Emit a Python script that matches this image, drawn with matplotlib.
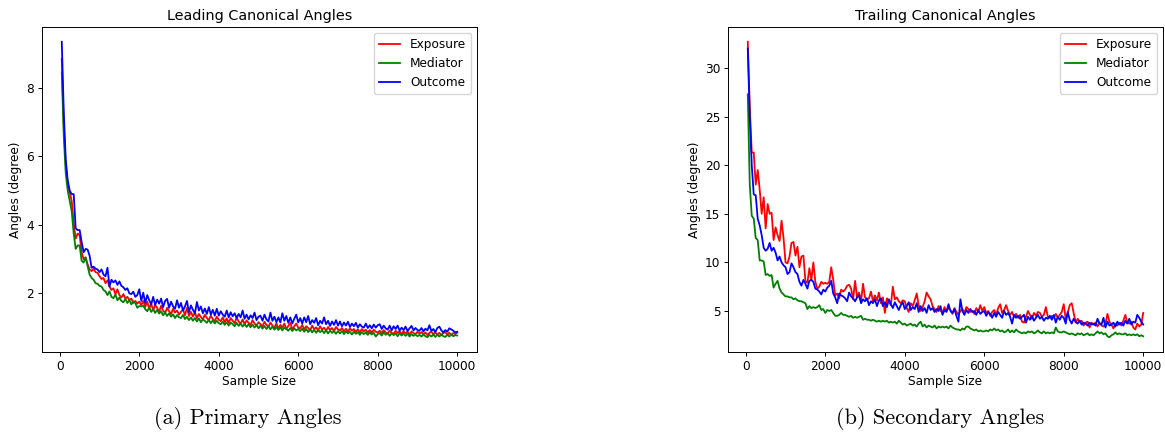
import numpy as np
import matplotlib.pyplot as plt

# sample sizes, 50 .. 10000 in steps of 50
sample_sizes = np.arange(50, 10001, 50)

lead_exposure = [
    8.85, 6.9, 5.75, 5.2, 4.95, 4.7, 4.05, 3.6, 3.75, 3.7, 3.2, 3.0, 3.05, 2.85, 2.7, 2.65, 2.72, 2.62, 2.6, 2.5,
    2.42, 2.45, 2.3, 2.38, 2.2, 2.1, 2.15, 1.98, 2.12, 1.95, 1.88, 1.98, 1.85, 1.9, 1.8, 1.85, 1.72, 1.78, 1.7, 1.76,
    1.66, 1.78, 1.6, 1.76, 1.56, 1.7, 1.5, 1.66, 1.58, 1.46, 1.64, 1.5, 1.43, 1.58, 1.48, 1.4, 1.55, 1.44, 1.5, 1.38,
    1.46, 1.54, 1.36, 1.58, 1.34, 1.46, 1.32, 1.45, 1.27, 1.4, 1.31, 1.24, 1.38, 1.28, 1.22, 1.35, 1.25, 1.19, 1.32, 1.23,
    1.19, 1.3, 1.16, 1.27, 1.14, 1.28, 1.2, 1.13, 1.3, 1.18, 1.11, 1.24, 1.1, 1.21, 1.14, 1.08, 1.22, 1.12, 1.06, 1.16,
    1.1, 1.04, 1.17, 1.08, 1.02, 1.15, 1.06, 1.0, 1.13, 0.97, 1.08, 1.0, 1.12, 0.96, 1.05, 1.14, 0.95, 1.04, 1.12, 1.0,
    0.98, 1.08, 0.95, 1.04, 0.99, 0.92, 1.06, 0.95, 1.01, 0.91, 1.04, 0.94, 1.0, 0.9, 1.02, 0.93, 0.99, 0.89, 1.02, 0.95,
    0.92, 0.99, 0.89, 0.97, 0.88, 0.98, 0.91, 0.96, 0.87, 0.95, 0.86, 0.96, 0.89, 0.94, 0.86, 0.93, 0.85, 0.94, 0.88, 0.86,
    0.91, 0.84, 0.93, 0.86, 0.83, 0.91, 0.85, 0.82, 0.91, 0.84, 0.89, 0.81, 0.9, 0.83, 0.88, 0.8, 0.89, 0.84, 0.81, 0.88,
    0.83, 0.87, 0.8, 0.86, 0.78, 0.85, 0.88, 0.8, 0.86, 0.79, 0.85, 0.78, 0.84, 0.87, 0.79, 0.85, 0.78, 0.84, 0.81, 0.86,
]
lead_mediator = [
    8.45, 6.6, 5.5, 5.0, 4.7, 4.4, 3.75, 3.3, 3.4, 3.4, 2.95, 2.9, 3.05, 2.8, 2.55, 2.45, 2.4, 2.3, 2.28, 2.22,
    2.2, 2.1, 2.06, 1.95, 2.06, 1.9, 1.86, 1.97, 1.8, 1.88, 1.78, 1.74, 1.84, 1.72, 1.8, 1.68, 1.77, 1.72, 1.58, 1.63,
    1.62, 1.64, 1.54, 1.48, 1.59, 1.46, 1.54, 1.43, 1.52, 1.41, 1.48, 1.36, 1.44, 1.34, 1.42, 1.32, 1.39, 1.28, 1.37, 1.3,
    1.28, 1.37, 1.25, 1.32, 1.22, 1.3, 1.2, 1.28, 1.18, 1.27, 1.16, 1.24, 1.2, 1.14, 1.23, 1.13, 1.21, 1.12, 1.2, 1.13,
    1.1, 1.18, 1.08, 1.16, 1.06, 1.15, 1.1, 1.04, 1.14, 1.05, 1.12, 1.03, 1.11, 1.02, 1.1, 1.01, 1.09, 1.0, 1.08, 0.98,
    1.06, 0.97, 1.05, 0.96, 1.04, 0.95, 1.03, 0.94, 1.02, 0.93, 1.01, 0.92, 1.0, 0.96, 0.91, 0.99, 0.9, 0.98, 0.92, 0.96,
    0.9, 0.97, 0.88, 0.96, 0.87, 0.95, 0.86, 0.94, 0.85, 0.93, 0.87, 0.92, 0.84, 0.92, 0.83, 0.91, 0.85, 0.9, 0.82, 0.9,
    0.83, 0.9, 0.81, 0.89, 0.83, 0.88, 0.8, 0.88, 0.82, 0.87, 0.79, 0.87, 0.81, 0.86, 0.79, 0.86, 0.8, 0.85, 0.74, 0.81,
    0.84, 0.77, 0.86, 0.79, 0.84, 0.76, 0.84, 0.78, 0.83, 0.75, 0.83, 0.77, 0.82, 0.76, 0.82, 0.74, 0.81, 0.76, 0.8, 0.75,
    0.79, 0.74, 0.8, 0.75, 0.72, 0.79, 0.74, 0.8, 0.73, 0.79, 0.74, 0.8, 0.75, 0.73, 0.79, 0.74, 0.8, 0.75, 0.78, 0.77,
]
lead_outcome = [
    9.35, 7.3, 5.9, 5.3, 5.0, 4.9, 4.9, 3.9, 3.85, 3.85, 3.5, 3.2, 3.3, 3.28, 3.1, 2.75, 2.78, 2.72, 2.7, 2.62,
    2.7, 2.55, 2.5, 2.75, 2.2, 2.4, 2.32, 2.38, 2.25, 2.35, 2.22, 2.18, 2.1, 2.15, 2.0, 1.98, 2.05, 1.9, 1.95, 2.12,
    1.78, 2.02, 1.72, 1.95, 1.8, 1.68, 1.9, 1.66, 1.82, 1.7, 1.85, 1.6, 1.78, 1.84, 1.58, 1.76, 1.62, 1.55, 1.8, 1.58,
    1.72, 1.5, 1.62, 1.78, 1.45, 1.65, 1.52, 1.42, 1.75, 1.5, 1.62, 1.42, 1.56, 1.4, 1.6, 1.38, 1.52, 1.35, 1.55, 1.35,
    1.48, 1.38, 1.32, 1.5, 1.3, 1.45, 1.33, 1.42, 1.28, 1.4, 1.3, 1.5, 1.26, 1.38, 1.24, 1.36, 1.28, 1.44, 1.22, 1.32,
    1.35, 1.2, 1.38, 1.24, 1.18, 1.44, 1.2, 1.32, 1.16, 1.3, 1.15, 1.42, 1.2, 1.34, 1.14, 1.3, 1.12, 1.26, 1.38, 1.15,
    1.28, 1.12, 1.3, 1.16, 1.34, 1.1, 1.22, 1.14, 1.28, 1.07, 1.2, 1.12, 1.3, 1.1, 1.2, 1.05, 1.18, 1.08, 1.22, 1.06,
    1.18, 1.04, 1.15, 1.06, 1.17, 1.02, 1.12, 1.04, 1.14, 1.0, 1.1, 1.03, 1.0, 1.12, 0.99, 1.07, 0.98, 1.09, 1.0, 1.07,
    1.1, 0.96, 1.06, 0.98, 0.94, 1.06, 0.92, 1.04, 0.96, 1.06, 0.91, 1.0, 0.93, 1.03, 0.9, 0.98, 1.05, 0.92, 0.99, 0.93,
    0.91, 0.99, 0.89, 0.97, 0.92, 1.07, 0.9, 0.96, 0.87, 0.99, 1.03, 0.92, 0.86, 0.93, 0.88, 0.98, 0.95, 0.91, 0.86, 0.88,
]

trail_exposure = [
    32.7, 26.0, 21.3, 21.3, 18.0, 19.5, 17.5, 15.0, 16.7, 13.5, 16.0, 15.0, 15.1, 12.3, 13.6, 12.8, 12.2, 14.3, 12.5, 10.0,
    9.9, 10.6, 12.0, 12.1, 10.7, 11.6, 9.5, 10.6, 10.7, 8.1, 7.9, 9.4, 8.2, 10.0, 8.0, 7.3, 7.5, 8.0, 7.8, 7.9,
    7.8, 8.0, 9.5, 8.2, 6.6, 6.8, 6.3, 7.2, 7.0, 7.2, 7.6, 7.7, 7.3, 6.2, 8.1, 6.4, 6.9, 6.0, 7.8, 6.4,
    6.2, 6.3, 7.0, 6.0, 6.6, 6.1, 6.9, 5.8, 6.4, 4.8, 6.3, 6.0, 5.6, 7.5, 6.2, 6.4, 6.0, 5.8, 6.1, 6.0,
    5.3, 4.9, 5.8, 5.5, 6.1, 6.8, 5.6, 5.0, 5.4, 6.0, 6.9, 6.5, 6.2, 5.5, 5.2, 4.9, 5.5, 5.0, 4.8, 5.4,
    5.0, 5.3, 5.1, 4.7, 5.3, 4.9, 4.6, 5.0, 5.2, 4.8, 5.4, 5.2, 4.9, 5.0, 4.7, 5.3, 4.9, 5.6, 5.0, 5.4,
    4.8, 5.0, 4.5, 4.9, 5.1, 4.6, 5.3, 5.7, 4.8, 5.1, 5.6, 5.0, 4.6, 4.9, 4.4, 4.7, 4.3, 4.6, 3.9, 3.8,
    4.4, 5.0, 4.6, 4.2, 4.8, 4.5, 4.9, 4.8, 4.4, 4.6, 5.4, 4.4, 4.3, 4.5, 4.3, 4.7, 4.3, 4.6, 4.9, 5.7,
    4.2, 4.8, 5.6, 5.8, 4.8, 3.8, 4.2, 3.9, 4.0, 3.5, 3.8, 3.9, 3.3, 3.8, 3.6, 3.8, 3.4, 3.8, 3.5, 3.4,
    3.7, 4.7, 3.9, 3.6, 3.2, 3.7, 3.5, 3.8, 3.5, 4.0, 4.6, 3.8, 3.7, 3.9, 3.3, 3.1, 3.7, 3.4, 3.6, 4.8,
]
trail_mediator = [
    27.3, 18.0, 14.8, 14.5, 12.5, 12.3, 10.2, 10.2, 10.1, 8.7, 8.8, 8.6, 8.7, 7.4, 7.8, 8.1, 7.3, 6.9, 6.7, 6.5,
    6.5, 6.4, 6.4, 6.2, 6.3, 6.1, 6.0, 6.0, 5.9, 5.8, 5.2, 5.5, 5.3, 5.4, 5.3, 5.4, 5.6, 5.1, 5.2, 4.8,
    5.1, 5.0, 5.1, 4.8, 4.5, 4.5, 4.6, 4.8, 4.6, 4.6, 4.5, 4.4, 4.5, 4.3, 4.4, 4.3, 4.4, 4.5, 4.1, 4.2,
    4.1, 4.1, 4.0, 4.1, 4.0, 3.9, 4.0, 3.9, 4.0, 3.9, 4.0, 3.8, 3.9, 3.8, 3.9, 3.7, 4.0, 3.8, 3.6, 3.7,
    3.5, 3.6, 3.7, 3.5, 3.6, 3.4, 3.7, 3.9, 3.4, 3.6, 3.3, 3.5, 3.4, 3.3, 3.5, 3.2, 3.4, 3.3, 3.4, 3.3,
    3.4, 3.2, 3.5, 3.3, 3.2, 3.1, 3.1, 3.0, 3.2, 3.1, 3.4, 3.4, 3.2, 3.1, 3.0, 3.1, 2.9, 3.0, 2.9, 2.9,
    3.0, 2.9, 3.1, 3.0, 3.2, 3.0, 3.1, 2.9, 3.0, 2.8, 2.9, 3.1, 2.8, 3.0, 2.8, 3.1, 2.9, 2.8, 2.7, 2.8,
    2.7, 2.9, 2.8, 2.9, 2.7, 2.8, 3.0, 2.8, 2.7, 2.9, 2.7, 2.8, 2.7, 2.8, 2.7, 3.3, 2.9, 2.8, 2.8, 2.9,
    2.8, 2.7, 2.6, 2.7, 2.6, 2.5, 2.7, 2.6, 2.7, 2.5, 2.6, 2.7, 2.5, 2.6, 2.5, 2.7, 2.9, 2.7, 2.8, 2.6,
    2.7, 2.4, 2.3, 2.5, 2.6, 2.8, 2.6, 2.7, 2.6, 2.6, 2.7, 2.5, 2.6, 2.5, 2.6, 2.5, 2.6, 2.4, 2.5, 2.4,
]
trail_outcome = [
    32.0, 25.0, 20.0, 17.0, 16.9, 14.5, 13.8, 12.8, 11.5, 11.2, 11.4, 12.0, 11.2, 11.5, 11.0, 10.2, 10.6, 10.0, 9.7, 9.5,
    8.8, 9.0, 9.9, 9.5, 9.0, 8.8, 8.0, 7.6, 8.2, 7.8, 7.3, 8.1, 8.2, 8.0, 7.3, 7.2, 7.0, 6.7, 7.2, 7.0,
    7.4, 7.6, 8.1, 6.8, 6.4, 5.8, 6.8, 6.6, 6.5, 6.3, 6.0, 6.9, 6.5, 6.3, 6.0, 6.4, 6.6, 5.8, 6.2, 6.0,
    6.3, 5.6, 6.0, 5.8, 6.2, 5.5, 6.1, 6.3, 5.5, 5.9, 5.4, 6.2, 5.7, 5.3, 5.9, 5.5, 5.1, 5.6, 5.9, 5.2,
    5.5, 5.9, 5.1, 5.4, 5.2, 5.8, 4.9, 5.5, 5.0, 5.3, 4.8, 5.6, 5.1, 5.3, 4.9, 5.2, 5.0, 5.5, 4.6, 5.1,
    4.9, 5.7, 5.0, 4.8, 5.2, 4.5, 3.9, 6.2, 5.0, 4.6, 5.1, 4.8, 5.2, 4.9, 5.0, 4.6, 5.1, 4.7, 4.9, 5.0,
    4.5, 4.9, 4.7, 4.3, 4.8, 4.4, 4.9, 4.6, 4.3, 5.0, 4.6, 4.8, 4.4, 3.7, 4.6, 4.3, 4.5, 4.2, 4.4, 4.6,
    3.8, 4.4, 4.1, 4.5, 4.0, 4.3, 4.6, 4.2, 4.4, 4.0, 4.3, 4.2, 4.5, 4.1, 4.6, 3.8, 4.4, 4.1, 4.5, 4.3,
    3.7, 4.9, 4.1, 3.7, 4.2, 3.9, 3.7, 4.0, 3.6, 3.8, 3.7, 3.5, 3.8, 3.6, 3.7, 3.5, 4.2, 3.7, 3.6, 4.3,
    3.3, 3.9, 3.5, 3.6, 3.8, 3.4, 3.9, 3.6, 3.8, 3.5, 4.0, 3.7, 4.2, 3.6, 3.9, 3.8, 4.6, 4.3, 3.9, 3.6,
]

series_labels = ["Exposure", "Mediator", "Outcome"]
series_colors = ["red", "green", "blue"]

panels = [
    ("Leading Canonical Angles", "(a) Primary Angles",
     [lead_exposure, lead_mediator, lead_outcome], [42, 27, 435, 325], 248),
    ("Trailing Canonical Angles", "(b) Secondary Angles",
     [trail_exposure, trail_mediator, trail_outcome], [728, 27, 435, 325], 940),
]

W, H = 1165, 440
fig = plt.figure(figsize=(W / 100, H / 100), dpi=100)

for title, caption, ys, (px, py, pw, ph), cap_x in panels:
    ax = fig.add_axes([px / W, 1 - (py + ph) / H, pw / W, ph / H])
    for y, lab, col in zip(ys, series_labels, series_colors):
        ax.plot(sample_sizes, y, color=col, lw=1.3, label=lab)
    ax.set_title(title, fontsize=10.4, pad=5)
    ax.set_xlabel("Sample Size", fontsize=8.7, labelpad=2)
    ax.set_ylabel("Angles (degree)", fontsize=8.7, labelpad=3)
    ax.tick_params(labelsize=8.7, length=3, width=0.7, pad=2.5)
    for s in ax.spines.values():
        s.set_linewidth(0.7)
    ax.legend(loc="upper right", fontsize=8.7, handlelength=1.8)
    fig.text(cap_x / W, 1 - 418 / H, caption, ha="center", va="center",
             fontsize=16, fontfamily="cmr10")

fig.savefig("out.png", dpi=100)
